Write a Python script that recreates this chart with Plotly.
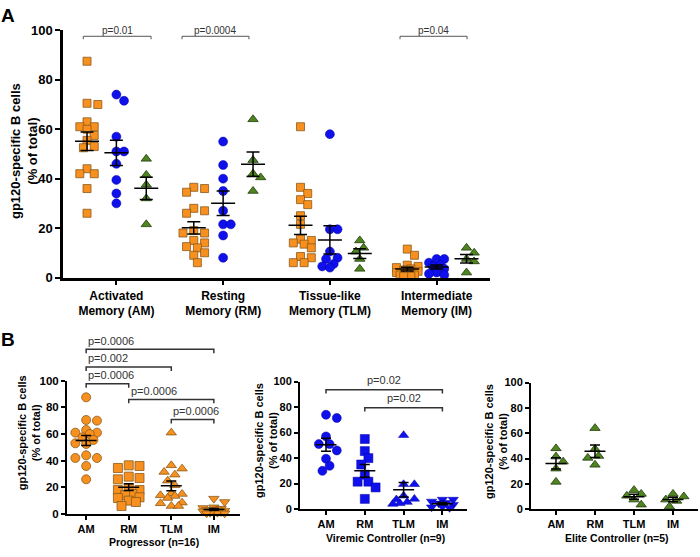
import numpy as np
import plotly.graph_objects as go

# ---------------- data ----------------
categories_A = ["Activated<br>Memory (AM)", "Resting<br>Memory (RM)",
                "Tissue-like<br>Memory (TLM)", "Intermediate<br>Memory (IM)"]
categories_B = ["AM", "RM", "TLM", "IM"]
y_ticks = [0, 20, 40, 60, 80, 100]

progressor_AM = [87.5, 70, 70.5, 63, 61, 61, 60, 57.5, 55.5, 53, 52.5, 44, 42, 42, 36, 26]
progressor_RM = [36.5, 36, 34.5, 28, 27, 26, 19, 18, 18, 15, 14, 12, 12.5, 10, 9, 6]
progressor_TLM = [61, 36.5, 34, 31.5, 29.5, 25, 21.5, 15, 15.5, 14, 13.5, 12, 8, 8.5, 6, 6]
progressor_IM = [11.5, 9, 5, 4.5, 4, 3.5, 3, 3, 2.5, 2, 2, 1.5, 1, 1, 0.5, 0.5]

viremic_AM = [74, 71.5, 57, 51, 51, 46, 39.5, 34, 30]
viremic_RM = [55, 45.5, 40, 35, 27, 21.5, 21.5, 17, 8]
viremic_TLM = [58, 19.5, 19.5, 10.5, 8, 7.5, 5.5, 4.5, 4]
viremic_IM = [7.5, 7.5, 6, 5, 4.5, 3.5, 2, 1.5, 1]

elite_AM = [48, 41.5, 37.5, 32, 21.5]
elite_RM = [64, 47.5, 42, 40.5, 35]
elite_TLM = [15, 12, 10.5, 7.5, 3.5]
elite_IM = [12, 10, 7.5, 6.5, 2]

progressor = [progressor_AM, progressor_RM, progressor_TLM, progressor_IM]
viremic = [viremic_AM, viremic_RM, viremic_TLM, viremic_IM]
elite = [elite_AM, elite_RM, elite_TLM, elite_IM]

pvals_A = ["p=0.01", "p=0.0004", "p=0.04"]
pvals_prog = ["p=0.0006", "p=0.002", "p=0.0006", "p=0.0006", "p=0.0006"]
pvals_vir = ["p=0.02", "p=0.02"]

# ---------------- layout geometry (pixels) ----------------
W, H = 700, 557
FONT = "Liberation Sans, Arial, sans-serif"
geo = {
    'A': dict(ax='', x0=63, x1=490, yb=278, yt=24, xr=[0.5, 4.5]),
    'P': dict(ax='2', x0=67, x1=240, yb=521, yt=384, xr=[0.55, 4.614]),
    'V': dict(ax='3', x0=300, x1=467, yb=516, yt=385, xr=[0.33, 4.634]),
    'E': dict(ax='4', x0=531, x1=698, yb=516, yt=386, xr=[0.36, 4.64]),
}
for g in geo.values():
    g['ppx'] = (g['x1'] - g['x0']) / (g['xr'][1] - g['xr'][0])
    g['ppy'] = (g['yb'] - g['yt']) / 100.0


def px_x(p, xd):
    g = geo[p]
    return (g['x0'] + (xd - g['xr'][0]) * g['ppx']) / W


def px_y(p, yd, dpx=0):
    g = geo[p]
    return 1 - (g['yb'] - yd * g['ppy'] - dpx) / H


def swarm(vals, ppy, diam, step, cap):
    """Deterministic beeswarm offsets (pixels) derived from the values."""
    n = len(vals)
    order = sorted(range(n), key=lambda i: -vals[i])
    placed, offs = [], [0.0] * n
    cands = [0.0]
    k = 1
    while k * step <= cap + 1e-9:
        cands += [k * step, -k * step]
        k += 1
    for i in order:
        y = vals[i] * ppy
        best, best_d = None, -1
        for c in cands:
            d = min([np.hypot(c - a, y - b) for a, b in placed] or [1e9])
            if d >= diam:
                best = c
                break
            if d > best_d + 0.5:
                best, best_d = c, d
        offs[i] = best
        placed.append((best, y))
    return offs


ORANGE = dict(color='#F7901E', line=dict(color='#8a5a1c', width=0.8))
BLUE = dict(color='#1010EC', line=dict(color='#0000a0', width=0.5))
GREEN = dict(color='#4F8420', line=dict(color='#203a08', width=0.8))

fig = go.Figure()


def add_group(p, center, vals, sym, style, size, diam, cap, mean_hw, cap_hw):
    g = geo[p]
    offs = swarm(vals, g['ppy'], diam, diam * 0.45, cap)
    xs = [center + o / g['ppx'] for o in offs]
    fig.add_trace(go.Scatter(
        x=xs, y=vals, mode='markers', xaxis='x' + g['ax'], yaxis='y' + g['ax'],
        marker=dict(symbol=sym, size=size, color=style['color'], line=style['line']),
        cliponaxis=False, showlegend=False, hoverinfo='y'))
    m = float(np.mean(vals))
    s = float(np.std(vals, ddof=1) / np.sqrt(len(vals)))
    hw, cw = mean_hw / g['ppx'], cap_hw / g['ppx']
    lx = [center - hw, center + hw, None, center, center, None,
          center - cw, center + cw, None, center - cw, center + cw]
    ly = [m, m, None, m - s, m + s, None, m + s, m + s, None, m - s, m - s]
    fig.add_trace(go.Scatter(
        x=lx, y=ly, mode='lines', xaxis='x' + g['ax'], yaxis='y' + g['ax'],
        line=dict(color='black', width=1.5), cliponaxis=False,
        showlegend=False, hoverinfo='skip'))


# Panel A
for i in range(4):
    c = i + 1
    add_group('A', c - 0.275, progressor[i], 'square', ORANGE, 8, 8, 11, 12, 6.5)
    add_group('A', c, viremic[i], 'circle', BLUE, 9, 8.5, 11, 12, 6.5)
    add_group('A', c + 0.28, elite[i], 'triangle-up', GREEN, 9, 8.5, 11, 12, 6.5)

# Panel B
symsB = ['circle', 'square', 'triangle-up', 'triangle-down']
for i in range(4):
    add_group('P', i + 1, progressor[i], symsB[i], ORANGE, 9, 8, 12, 10.5, 5)
    add_group('V', i + 1, viremic[i], symsB[i], BLUE, 9, 8, 12, 10.5, 5)
    add_group('E', i + 1, elite[i], 'triangle-up', GREEN, 9, 8, 12, 10.5, 5)

# ---------------- axes ----------------
layout = dict(width=W, height=H, margin=dict(l=0, r=0, t=0, b=0),
              paper_bgcolor='white', plot_bgcolor='white',
              font=dict(family=FONT, color='black'))
ytick_size = {'A': 13, 'P': 11.5, 'V': 11, 'E': 11}
for p, g in geo.items():
    big = p == 'A'
    xa = dict(domain=[g['x0'] / W, g['x1'] / W], range=g['xr'],
              anchor='y' + g['ax'], showline=True, linecolor='black',
              linewidth=2.5 if big else 2, ticks='outside', ticklen=5 if big else 4,
              tickwidth=2, tickcolor='black', showgrid=False, zeroline=False,
              tickmode='array', tickvals=[1, 2, 3, 4],
              ticktext=categories_A if big else categories_B,
              tickfont=dict(family=FONT, size=12 if big else 11, weight='bold'),
              fixedrange=True)
    ya = dict(domain=[1 - g['yb'] / H, 1 - g['yt'] / H], range=[0, 100],
              anchor='x' + g['ax'], showline=True, linecolor='black',
              linewidth=2.5 if big else 2, ticks='outside', ticklen=5 if big else 4,
              tickwidth=2, tickcolor='black', showgrid=False, zeroline=False,
              tickmode='array', tickvals=y_ticks,
              tickfont=dict(family=FONT, size=ytick_size[p], weight='bold'),
              fixedrange=True)
    layout['xaxis' + g['ax']] = xa
    layout['yaxis' + g['ax']] = ya

annotations = []
shapes = []

# panel letters
annotations.append(dict(text="<b>A</b>", x=8 / W, y=1 - 9 / H, xref='paper', yref='paper',
                        xanchor='center', yanchor='middle', showarrow=False,
                        font=dict(family=FONT, size=19)))
annotations.append(dict(text="<b>B</b>", x=8 / W, y=1 - 342 / H, xref='paper', yref='paper',
                        xanchor='center', yanchor='middle', showarrow=False,
                        font=dict(family=FONT, size=19)))

# y titles
ytitle = "<b>gp120-specific B cells<br>(% of total)</b>"
for (xc, yc, fs) in [(24, 148, 13), (29, 437, 11), (266, 446, 11), (496, 446, 11)]:
    annotations.append(dict(text=ytitle, x=xc / W, y=1 - yc / H, xref='paper', yref='paper',
                            xanchor='center', yanchor='middle', showarrow=False, textangle=-90,
                            font=dict(family=FONT, size=fs)))

# subtitles
for txt, xc, yc in [("Progressor (n=16)", 154, 550), ("Viremic Controller (n=9)", 385, 546),
                    ("Elite Controller (n=5)", 617, 546)]:
    annotations.append(dict(text="<b>" + txt + "</b>", x=xc / W, y=1 - yc / H,
                            xref='paper', yref='paper', xanchor='center', yanchor='middle',
                            showarrow=False, font=dict(family=FONT, size=10.5)))


def bracket(p, xa, xb, yd, txt, drop, color, width, fsize, gap, align):
    y0 = px_y(p, yd)
    y1 = px_y(p, yd, -drop)
    xa_p, xb_p = px_x(p, xa), px_x(p, xb)
    shapes.append(dict(type='path', xref='paper', yref='paper',
                       path=f"M {xa_p},{y1} L {xa_p},{y0} L {xb_p},{y0} L {xb_p},{y1}",
                       line=dict(color=color, width=width)))
    tx = (xa_p + xb_p) / 2 if align == 'center' else xa_p
    annotations.append(dict(text=txt, x=tx, y=px_y(p, yd, gap), xref='paper', yref='paper',
                            xanchor=align, yanchor='middle', showarrow=False,
                            font=dict(family=FONT, size=fsize, color='#333333')))


# Panel A brackets
bracket('A', 0.69, 1.325, 97.6, pvals_A[0], 3, '#555555', 1, 10, 6, 'center')
bracket('A', 1.615, 2.242, 97.6, pvals_A[1], 3, '#555555', 1, 10, 6, 'center')
bracket('A', 3.657, 4.285, 97.6, pvals_A[2], 3, '#555555', 1, 10, 6, 'center')

# Progressor brackets
prog_br = [(1, 4, 123.5), (1, 3, 110.2), (1, 2, 97.6), (2, 4, 85.9), (3, 4, 70.8)]
for (a, b, yv), t in zip(prog_br, pvals_prog):
    bracket('P', a, b, yv, t, 4, '#333333', 1.5, 11, 9, 'left')

# Viremic brackets
vir_br = [(1, 4, 93.7), (2, 4, 79.6)]
for (a, b, yv), t in zip(vir_br, pvals_vir):
    bracket('V', a, b, yv, t, 4, '#333333', 1.5, 11, 10, 'center')

layout['annotations'] = annotations
layout['shapes'] = shapes
fig.update_layout(**layout)
fig.write_html("out.html", config={'displayModeBar': False},
               post_script="document.body.style.margin='0';document.body.style.padding='0';")
